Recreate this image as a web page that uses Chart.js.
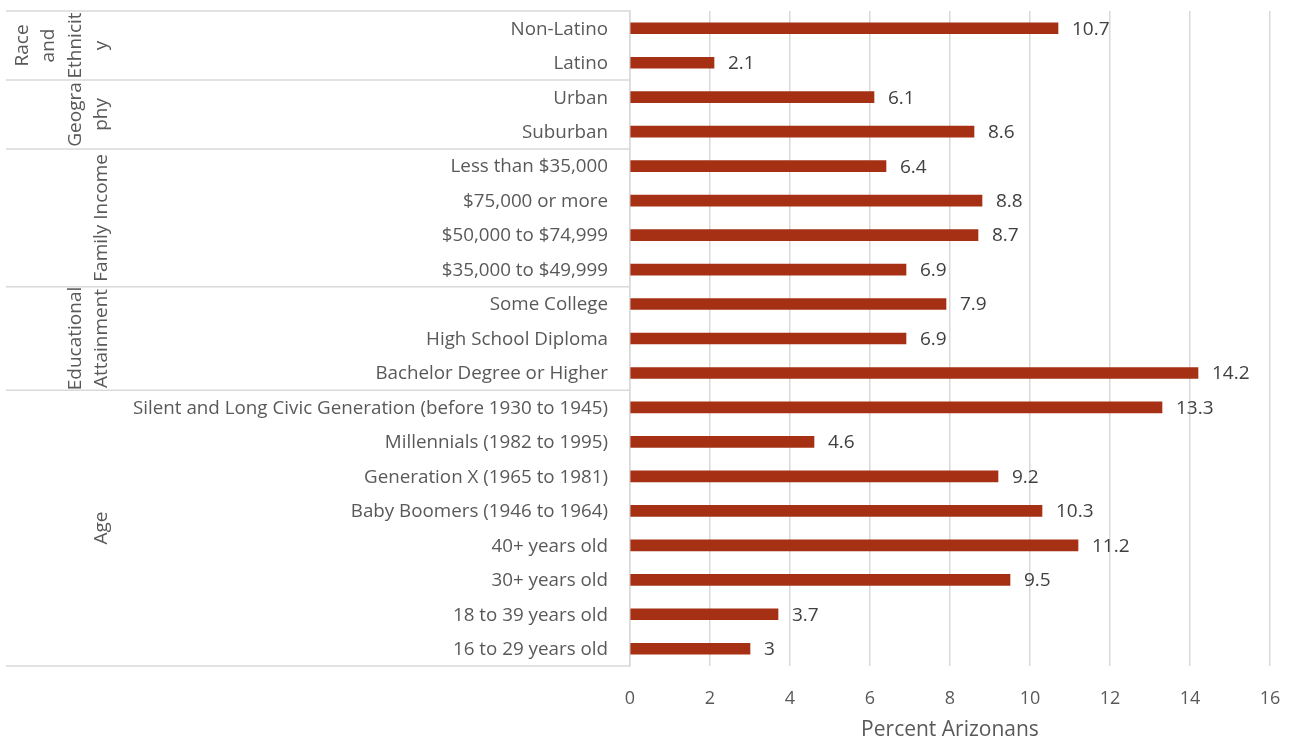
<!DOCTYPE html>
<html>
<head>
<meta charset="utf-8">
<script src="https://cdn.jsdelivr.net/npm/chart.js@4.4.1/dist/chart.umd.min.js"></script>
<style>
  html, body { margin: 0; padding: 0; background: #ffffff; }
  #wrap { width: 1292px; height: 741px; }
</style>
</head>
<body>
<div id="wrap"><canvas id="c" width="1292" height="741"></canvas></div>
<script>
// Category rows, top to bottom
const categories = [
  'Non-Latino', 'Latino',
  'Urban', 'Suburban',
  'Less than $35,000', '$75,000 or more', '$50,000 to $74,999', '$35,000 to $49,999',
  'Some College', 'High School Diploma', 'Bachelor Degree or Higher',
  'Silent and Long Civic Generation (before 1930 to 1945)', 'Millennials (1982 to 1995)',
  'Generation X (1965 to 1981)', 'Baby Boomers (1946 to 1964)', '40+ years old',
  '30+ years old', '18 to 39 years old', '16 to 29 years old'
];

// Percent of Arizonans, one value per row
const percentValues = [
  10.7, 2.1,
  6.1, 8.6,
  6.4, 8.8, 8.7, 6.9,
  7.9, 6.9, 14.2,
  13.3, 4.6, 9.2, 10.3, 11.2, 9.5, 3.7, 3
];

// Outer grouping of the rows (label lines as wrapped, row count per group)
const groupLabels = [
  ['Race', 'and', 'Ethnicit', 'y'],
  ['Geogra', 'phy'],
  ['Family Income'],
  ['Educational', 'Attainment'],
  ['Age']
];
const groupSizes = [2, 2, 4, 3, 8];

const axisTitle = 'Percent Arizonans';

const FONT = '"Open Sans", "DejaVu Sans", sans-serif';
const BAR_COLOR = '#a53014';
const TEXT_COLOR = '#595959';
const LINE_COLOR = '#d9d9d9';

// Draws value labels at the bar ends and the grouped category box on the left
const groupPlugin = {
  id: 'groupBox',
  afterDraw(chart) {
    const ctx = chart.ctx;
    const y = chart.scales.y;
    const area = chart.chartArea;
    const boxLeft = 6;

    // value labels
    const meta = chart.getDatasetMeta(0);
    ctx.save();
    ctx.fillStyle = '#404040';
    ctx.font = '19px ' + FONT;
    ctx.textAlign = 'left';
    ctx.textBaseline = 'middle';
    meta.data.forEach((bar, i) => {
      ctx.fillText(String(percentValues[i]), bar.x + 14, bar.y + 1);
    });
    ctx.restore();

    // group separators and labels
    const half = (y.getPixelForValue(1) - y.getPixelForValue(0)) / 2;
    ctx.save();
    ctx.strokeStyle = LINE_COLOR;
    ctx.lineWidth = 1.5;
    let start = 0;
    const edges = [y.getPixelForValue(0) - half];
    groupSizes.forEach(n => {
      start += n;
      edges.push(y.getPixelForValue(start - 1) + half);
    });
    edges.forEach(py => {
      ctx.beginPath();
      ctx.moveTo(boxLeft, py);
      ctx.lineTo(area.left, py);
      ctx.stroke();
    });

    ctx.fillStyle = TEXT_COLOR;
    ctx.font = '19px ' + FONT;
    ctx.textAlign = 'center';
    ctx.textBaseline = 'middle';
    const lastLineX = 102;
    const lineGap = 26.5;
    groupLabels.forEach((lines, g) => {
      const cy = (edges[g] + edges[g + 1]) / 2;
      const n = lines.length;
      lines.forEach((txt, i) => {
        const cx = lastLineX - (n - 1 - i) * lineGap;
        ctx.save();
        ctx.translate(cx, cy);
        ctx.rotate(-Math.PI / 2);
        ctx.fillText(txt, 0, 0);
        ctx.restore();
      });
    });
    ctx.restore();
  }
};

new Chart(document.getElementById('c'), {
  type: 'bar',
  data: {
    labels: categories,
    datasets: [{
      data: percentValues,
      backgroundColor: BAR_COLOR,
      borderWidth: 0,
      barThickness: 11
    }]
  },
  options: {
    indexAxis: 'y',
    responsive: false,
    animation: false,
    events: [],
    layout: { padding: { left: 0, top: 11, right: 22, bottom: 0 } },
    plugins: {
      legend: { display: false },
      tooltip: { enabled: false }
    },
    scales: {
      x: {
        min: 0,
        max: 16,
        ticks: {
          stepSize: 2,
          color: TEXT_COLOR,
          font: { family: FONT, size: 18 },
          padding: 22,
          maxRotation: 0
        },
        grid: { color: LINE_COLOR, lineWidth: 1.5, drawTicks: false },
        border: { display: false },
        title: {
          display: true,
          text: axisTitle,
          color: TEXT_COLOR,
          font: { family: FONT, size: 21, lineHeight: 1.05 },
          padding: { top: 0, bottom: 0 }
        },
        afterFit(scale) {
          scale.height = 75;
          scale.paddingLeft = 0;
          scale.paddingRight = 0;
        }
      },
      y: {
        ticks: {
          color: TEXT_COLOR,
          font: { family: FONT, size: 18.8 },
          padding: 22,
          labelOffset: 1,
          autoSkip: false
        },
        grid: { display: false, drawTicks: false },
        border: { display: true, color: LINE_COLOR, width: 1.5 },
        afterFit(scale) {
          scale.width = 630;
          scale.paddingTop = 0;
          scale.paddingBottom = 0;
        }
      }
    }
  },
  plugins: [groupPlugin]
});
</script>
</body>
</html>
